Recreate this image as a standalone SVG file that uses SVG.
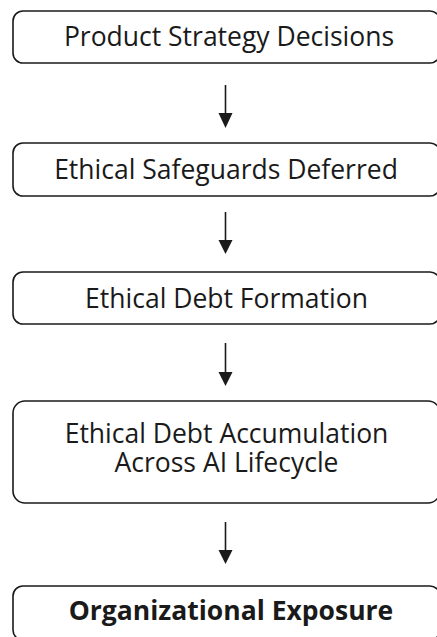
<svg xmlns="http://www.w3.org/2000/svg" width="437" height="637" viewBox="0 0 437 637">
<style>
.box{fill:#fff;stroke:#1a1a1a;stroke-width:1.6}
.t{font-family:"Open Sans","Liberation Sans",sans-serif;font-size:26.5px;fill:#1a1a1a;text-anchor:middle}
.b{font-weight:bold}
.c{stroke:#1a1a1a;stroke-width:1.6;fill:none}
.h{fill:#1a1a1a}
</style>
<rect width="437" height="637" fill="#fff"/>
<g id="n1"><rect class="box" x="13" y="11" width="427" height="52" rx="10"/><text class="t" x="229" y="46">Product Strategy Decisions</text></g>
<g id="n2"><rect class="box" x="13" y="143" width="427" height="53" rx="10"/><text class="t" x="226" y="179">Ethical Safeguards Deferred</text></g>
<g id="n3"><rect class="box" x="13" y="272" width="427" height="52" rx="10"/><text class="t" x="226.5" y="307.5">Ethical Debt Formation</text></g>
<g id="n4"><rect class="box" x="13" y="401" width="427" height="102" rx="12"/><text class="t" x="226.5" y="443">Ethical Debt Accumulation</text><text class="t" x="226.5" y="472">Across AI Lifecycle</text></g>
<g id="n5"><rect class="box" x="13" y="586" width="427" height="54" rx="10"/><text class="t b" x="231" y="620">Organizational Exposure</text></g>
<g id="connectors">
<path class="c" d="M225.5,85 V114"/><path class="h" d="M218.5,113 H232.5 L225.5,128 Z"/>
<path class="c" d="M225.5,212 V241"/><path class="h" d="M218.5,240 H232.5 L225.5,254 Z"/>
<path class="c" d="M225.5,343 V373"/><path class="h" d="M218.5,372 H232.5 L225.5,386 Z"/>
<path class="c" d="M225.5,522 V551"/><path class="h" d="M218.5,550 H232.5 L225.5,564 Z"/>
</g>
</svg>
